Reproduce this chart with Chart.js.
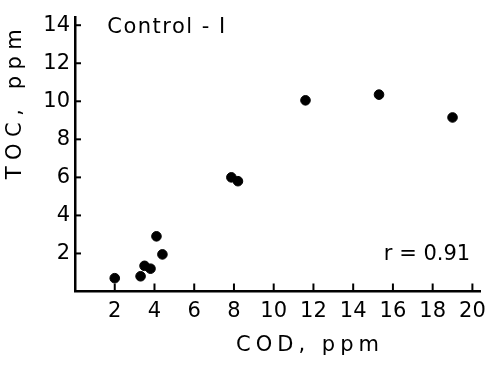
<!DOCTYPE html>
<html>
<head>
<meta charset="utf-8">
<script src="https://cdn.jsdelivr.net/npm/chart.js@4/dist/chart.umd.min.js"></script>
<style>
  html, body { margin: 0; padding: 0; background: #fff; }
  #wrap { width: 493px; height: 366px; }
</style>
</head>
<body>
<div id="wrap"><canvas id="tocChart"></canvas></div>
<script>
// COD vs TOC, Control-1
const codValues = [2.0, 3.3, 3.5, 3.8, 4.1, 4.4, 7.87, 8.2, 11.6, 15.3, 19.0];
const tocValues = [0.7, 0.8, 1.35, 1.2, 2.9, 1.95, 6.0, 5.8, 10.05, 10.35, 9.15];
const xTicks = [2, 4, 6, 8, 10, 12, 14, 16, 18, 20];
const yTicks = [2, 4, 6, 8, 10, 12, 14];
const panelLabel = "Control - I";
const corrLabel = "r = 0.91";

const points = codValues.map((x, i) => ({ x: x, y: tocValues[i] }));
const fontFamily = "'DejaVu Sans', sans-serif";

// ticks drawn inward + the text labels
const extras = {
  id: "extras",
  afterDraw(chart) {
    const ctx = chart.ctx;
    const xs = chart.scales.x;
    const ys = chart.scales.y;
    const area = chart.chartArea;
    ctx.save();
    ctx.strokeStyle = "#000";
    ctx.lineWidth = 2;
    xTicks.forEach(v => {
      const px = xs.getPixelForValue(v);
      ctx.beginPath();
      ctx.moveTo(px, area.bottom);
      ctx.lineTo(px, area.bottom - 8);
      ctx.stroke();
    });
    yTicks.forEach(v => {
      const py = ys.getPixelForValue(v);
      ctx.beginPath();
      ctx.moveTo(area.left, py);
      ctx.lineTo(area.left + 6, py);
      ctx.stroke();
    });

    ctx.fillStyle = "#000";
    ctx.textBaseline = "middle";
    ctx.textAlign = "center";
    ctx.font = "21px " + fontFamily;
    ctx.letterSpacing = "1.5px";
    ctx.fillText(panelLabel, 167, 28);
    ctx.letterSpacing = "0px";
    ctx.fillText(corrLabel, 427, 255);

    ctx.letterSpacing = "5px";
    ctx.fillText("COD, ppm", 310, 346);

    ctx.translate(16, 104);
    ctx.rotate(-Math.PI / 2);
    ctx.letterSpacing = "6.5px";
    ctx.fillText("TOC, ppm", 3, 0);
    ctx.restore();
  }
};

new Chart(document.getElementById("tocChart"), {
  type: "scatter",
  data: {
    datasets: [{
      label: panelLabel,
      data: points,
      backgroundColor: "#000",
      borderColor: "#000",
      pointRadius: 4.8,
      pointHoverRadius: 4.8
    }]
  },
  options: {
    responsive: true,
    maintainAspectRatio: false,
    animation: false,
    layout: { padding: { top: 7, right: 12, left: 0, bottom: 0 } },
    plugins: {
      legend: { display: false },
      tooltip: { enabled: false }
    },
    scales: {
      x: {
        type: "linear",
        min: 0,
        max: 20.4,
        afterFit: s => { s.height = 74.5; },
        grid: { display: false, drawTicks: false },
        border: { display: true, color: "#000", width: 2.5 },
        ticks: {
          stepSize: 2,
          includeBounds: false,
          padding: 7,
          color: "#000",
          font: { family: fontFamily, size: 21 },
          callback: v => (v === 0 ? "" : v)
        }
      },
      y: {
        type: "linear",
        min: 0,
        max: 14.4,
        afterFit: s => { s.width = 75; },
        grid: { display: false, drawTicks: false },
        border: { display: true, color: "#000", width: 2.5 },
        ticks: {
          stepSize: 2,
          includeBounds: false,
          padding: 5,
          color: "#000",
          font: { family: fontFamily, size: 21 },
          callback: v => (v === 0 ? "" : v)
        }
      }
    }
  },
  plugins: [extras]
});
</script>
</body>
</html>
